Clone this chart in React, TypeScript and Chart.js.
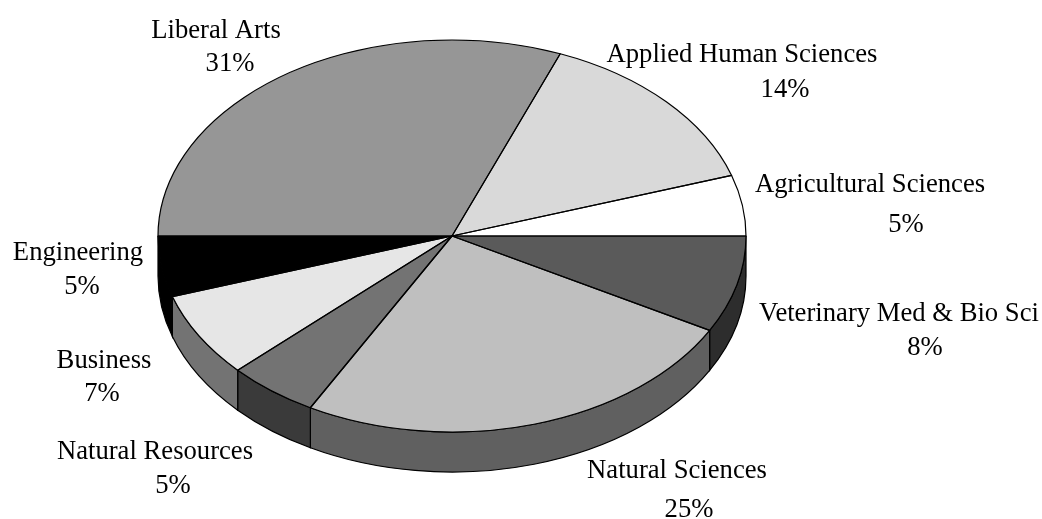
import React, { useEffect, useRef } from "react";
import { Chart, registerables } from "chart.js";

Chart.register(...registerables);

const categories = [
  "Veterinary Med & Bio Sci",
  "Natural Sciences",
  "Natural Resources",
  "Business",
  "Engineering",
  "Liberal Arts",
  "Applied Human Sciences",
  "Agricultural Sciences",
];
const shares = [8, 25, 5, 7, 5, 31, 14, 5];
const faceColors = ["#5a5a5a", "#bfbfbf", "#737373", "#e6e6e6", "#000000", "#969696", "#d9d9d9", "#ffffff"];
const wallColors = ["#2d2d2d", "#606060", "#3a3a3a", "#737373", "#000000", "#969696", "#d9d9d9", "#ffffff"];

// Label anchors: [name x, name baseline, percent x, percent baseline]
const labelAnchors = [
  [899, 321, 925, 355],
  [677, 478, 689, 517],
  [155, 459, 173, 493],
  [104, 368, 102, 401],
  [78, 260, 82, 294],
  [216, 38, 230, 71],
  [742, 62, 785, 97],
  [870, 192, 906, 232],
];

const WIDTH = 1042;
const HEIGHT = 519;
const SQUASH_X = 1.5;
const DEPTH = 40;
const LINE = 1.2;

const pie3d = {
  id: "pie3d",
  beforeDatasetsDraw(chart: any) {
    const ctx = chart.ctx;
    const arcs = chart.getDatasetMeta(0).data;
    const first = arcs[0];
    const { x: cx, y: cy, outerRadius: ry } = first.getProps(["x", "y", "outerRadius"]);
    const rx = ry * SQUASH_X;
    ctx.save();
    ctx.lineWidth = LINE;
    ctx.strokeStyle = "#000";
    arcs.forEach((arc: any, i: number) => {
      const { startAngle, endAngle } = arc.getProps(["startAngle", "endAngle"]);
      const a = Math.max(startAngle, 0);
      const b = Math.min(endAngle, Math.PI);
      if (b <= a) return;
      ctx.beginPath();
      ctx.ellipse(cx, cy + DEPTH, rx, ry, 0, a, b);
      ctx.ellipse(cx, cy, rx, ry, 0, b, a, true);
      ctx.closePath();
      ctx.fillStyle = wallColors[i];
      ctx.fill();
      ctx.stroke();
    });
    ctx.restore();
    ctx.save();
    ctx.translate(cx, 0);
    ctx.scale(SQUASH_X, 1);
    ctx.translate(-cx, 0);
  },
  afterDatasetsDraw(chart: any) {
    const ctx = chart.ctx;
    ctx.restore();
    const arcs = chart.getDatasetMeta(0).data;
    ctx.save();
    ctx.lineWidth = LINE;
    ctx.strokeStyle = "#000";
    ctx.lineJoin = "round";
    arcs.forEach((arc: any) => {
      const { x, y, outerRadius, startAngle, endAngle } = arc.getProps([
        "x",
        "y",
        "outerRadius",
        "startAngle",
        "endAngle",
      ]);
      ctx.beginPath();
      ctx.moveTo(x, y);
      ctx.ellipse(x, y, outerRadius * SQUASH_X, outerRadius, 0, startAngle, endAngle);
      ctx.closePath();
      ctx.stroke();
    });
    ctx.restore();
  },
  afterDraw(chart: any) {
    const ctx = chart.ctx;
    ctx.save();
    ctx.fillStyle = "#000";
    ctx.font = '26.67px "Liberation Serif"';
    ctx.textAlign = "center";
    ctx.textBaseline = "alphabetic";
    categories.forEach((name, i) => {
      const [nx, ny, px, py] = labelAnchors[i];
      ctx.fillText(name, nx, ny);
      ctx.fillText(`${shares[i]}%`, px, py);
    });
    ctx.restore();
  },
};

export default function App() {
  const ref = useRef<HTMLCanvasElement>(null);
  useEffect(() => {
    const chart = new Chart(ref.current as HTMLCanvasElement, {
      type: "pie",
      data: {
        labels: categories,
        datasets: [
          {
            data: shares,
            backgroundColor: faceColors,
            borderWidth: 0,
            clip: false,
          } as any,
        ],
      },
      options: {
        responsive: false,
        animation: false,
        rotation: 90,
        layout: { padding: { left: 256, right: 394, top: 40, bottom: 87 } },
        plugins: { legend: { display: false }, tooltip: { enabled: false } },
      },
      plugins: [pie3d],
    });
    return () => chart.destroy();
  }, []);
  return (
    <div style={{ position: "absolute", left: 0, top: 0, width: WIDTH, height: HEIGHT, background: "#fff" }}>
      <canvas ref={ref} width={WIDTH} height={HEIGHT} style={{ display: "block" }} />
    </div>
  );
}
